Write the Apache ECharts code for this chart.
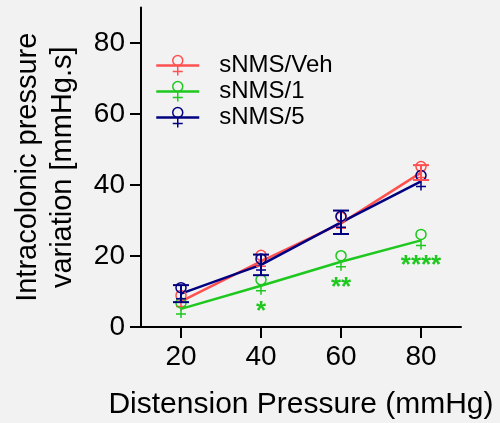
<!DOCTYPE html>
<html>
<head>
<meta charset="utf-8">
<script src="https://cdn.jsdelivr.net/npm/echarts@6/dist/echarts.min.js"></script>
<style>
  html, body { margin: 0; padding: 0; background: #f2f2f2; }
  #chart { width: 500px; height: 423px; }
</style>
</head>
<body>
<div id="chart"></div>
<script>
// distension pressure (mmHg) on x
const pressures = [20, 40, 60, 80];
const xTicks = [20, 40, 60, 80];
const yTicks = [0, 20, 40, 60, 80];

// mean +- SEM
const vehMean = [7.2, 18.5, 29.2, 43.5];
const vehSem = [1.5, 1.5, 1.5, 2.1];
const dose1Mean = [5.1, 11.6, 18.4, 24.4];
const dose1Sem = [0.8, 0.8, 0.8, 0.8];
const dose5Mean = [9.4, 17.5, 29.5, 41.0];
const dose5Sem = [2.4, 2.9, 3.3, 1.0];
const dose1Stars = ['', '*', '**', '****'];

const names = ['sNMS/Veh', 'sNMS/1', 'sNMS/5'];
const colors = ['#ff5050', '#1ec81e', '#000080'];

const font = '"Liberation Sans", Arial, sans-serif';
// female-sign marker, padded to a square box so the legend doesn't squash it
const femaleSymbol = 'path://M0 10M20 10M15 5A5 5 0 1 1 5 5A5 5 0 1 1 15 5ZM10 10L10 20M5 16L15 16';

function lineSeries(i, means, extra) {
	return Object.assign({
		name: names[i],
		type: 'line',
		data: pressures.map((p, k) => [p, means[k]]),
		symbol: femaleSymbol,
		symbolSize: 20,
		symbolOffset: [0, -1],
		lineStyle: {color: colors[i], width: 2.5},
		itemStyle: {color: 'rgba(0,0,0,0)', borderColor: colors[i], borderWidth: 1.5},
		z: 2,
	}, extra || {});
}

function errorSeries(i, means, sems) {
	return {
		type: 'custom',
		silent: true,
		z: 3,
		encode: {x: 0, y: [1, 2]},
		data: pressures.map((p, k) => [p, means[k] - sems[k], means[k] + sems[k]]),
		renderItem: (params, api) => {
			const top = api.coord([api.value(0), api.value(2)]);
			const bot = api.coord([api.value(0), api.value(1)]);
			// like prism: bars shorter than the symbol are not drawn
			if (bot[1] - top[1] < 12) return null;
			const half = 8;
			const style = {stroke: colors[i], lineWidth: 2};
			return {
				type: 'group',
				children: [
					{type: 'line', shape: {x1: top[0], y1: top[1], x2: bot[0], y2: bot[1]}, style},
					{type: 'line', shape: {x1: top[0] - half, y1: top[1], x2: top[0] + half, y2: top[1]}, style},
					{type: 'line', shape: {x1: bot[0] - half, y1: bot[1], x2: bot[0] + half, y2: bot[1]}, style},
				]
			};
		}
	};
}

const chart = echarts.init(document.getElementById('chart'), null, {renderer: 'canvas'});
chart.setOption({
	backgroundColor: '#f2f2f2',
	animation: false,
	textStyle: {fontFamily: font},
	grid: {left: 141, top: 7.5, width: 320, height: 319.5, outerBoundsMode: 'none'},
	legend: {
		orient: 'vertical',
		left: 150,
		top: 48.5,
		itemWidth: 43,
		itemHeight: 25,
		itemGap: 2,
		selectedMode: false,
		textStyle: {fontSize: 24, color: '#000', fontFamily: font, padding: [0, 0, 0, 15]},
		data: names.map((n, i) => ({
			name: n,
			lineStyle: {color: colors[i], width: 2.5},
			itemStyle: {color: 'rgba(0,0,0,0)', borderColor: colors[i], borderWidth: 1.5},
		})),
	},
	xAxis: {
		type: 'value',
		min: 10,
		max: 90,
		name: 'Distension Pressure (mmHg)',
		nameLocation: 'middle',
		nameGap: 63,
		nameTextStyle: {fontSize: 30, color: '#000', fontFamily: font},
		axisLine: {lineStyle: {color: '#000', width: 2}},
		axisTick: {length: 11, lineStyle: {color: '#000', width: 2}, customValues: xTicks},
		axisLabel: {fontSize: 28, color: '#000', margin: 16, customValues: xTicks},
		splitLine: {show: false},
	},
	yAxis: {
		type: 'value',
		min: 0,
		max: 90,
		name: 'Intracolonic pressure\nvariation [mmHg.s]',
		nameLocation: 'middle',
		nameGap: 61,
		nameTextStyle: {fontSize: 29, color: '#000', fontFamily: font, lineHeight: 35},
		axisLine: {show: true, lineStyle: {color: '#000', width: 2}},
		axisTick: {show: true, length: 11, lineStyle: {color: '#000', width: 2}, customValues: yTicks},
		axisLabel: {fontSize: 28, color: '#000', margin: 16, customValues: yTicks},
		splitLine: {show: false},
	},
	series: [
		lineSeries(0, vehMean),
		lineSeries(1, dose1Mean, {
			label: {
				show: true,
				position: 'bottom',
				distance: 3,
				color: colors[1],
				fontSize: 26,
				fontWeight: 'bold',
				formatter: p => dose1Stars[p.dataIndex],
			}
		}),
		lineSeries(2, dose5Mean),
		errorSeries(0, vehMean, vehSem),
		errorSeries(1, dose1Mean, dose1Sem),
		errorSeries(2, dose5Mean, dose5Sem),
	]
});
</script>
</body>
</html>
